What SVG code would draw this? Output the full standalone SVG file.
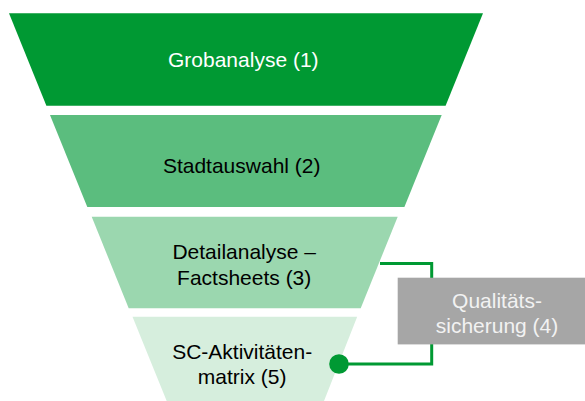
<svg xmlns="http://www.w3.org/2000/svg" width="585" height="401" viewBox="0 0 585 401">
  <style>
    text { font-family: "Liberation Sans", Arial, sans-serif; font-size: 21px; text-anchor: middle; fill: #000000; }
    .light { fill: #FFFFFF; }
    .gray-text { fill: #F2F2F2; }
    .conn { fill: none; stroke: #009933; stroke-width: 3; }
  </style>
  <rect width="585" height="401" fill="#FFFFFF"/>
  <g id="grobanalyse">
    <polygon points="9,13.3 483,13.3 445.6,105.7 46.4,105.7" fill="#009933"/>
    <text class="light" x="243.3" y="66.7">Grobanalyse (1)</text>
  </g>
  <g id="stadtauswahl">
    <polygon points="50,115 441.7,115 404.4,207 87.3,207" fill="#5BBD7E"/>
    <text x="241.7" y="172.7">Stadtauswahl (2)</text>
  </g>
  <g id="detailanalyse">
    <polygon points="91.7,216.7 397.7,216.7 360.7,308.3 128.7,308.3" fill="#9BD7AF"/>
    <text x="244.2" y="259.3">Detailanalyse –</text>
    <text x="244.2" y="285">Factsheets (3)</text>
  </g>
  <g id="sc-aktivitaetenmatrix">
    <polygon points="132.5,316.7 357.2,316.7 324,401 166.7,401" fill="#D6EEDD"/>
    <text x="242.2" y="359">SC-Aktivitäten-</text>
    <text x="242.2" y="384.3">matrix (5)</text>
  </g>
  <g id="connectors">
    <path class="conn" d="M380,263.5 H431.7 V364 H339"/>
    <circle cx="339" cy="364" r="9.8" fill="#009933"/>
  </g>
  <g id="qualitaetssicherung">
    <rect x="397.7" y="277.7" width="187.3" height="66.7" fill="#A6A6A6"/>
    <text class="gray-text" x="497" y="307.7">Qualitäts-</text>
    <text class="gray-text" x="497" y="333.3">sicherung (4)</text>
  </g>
</svg>
